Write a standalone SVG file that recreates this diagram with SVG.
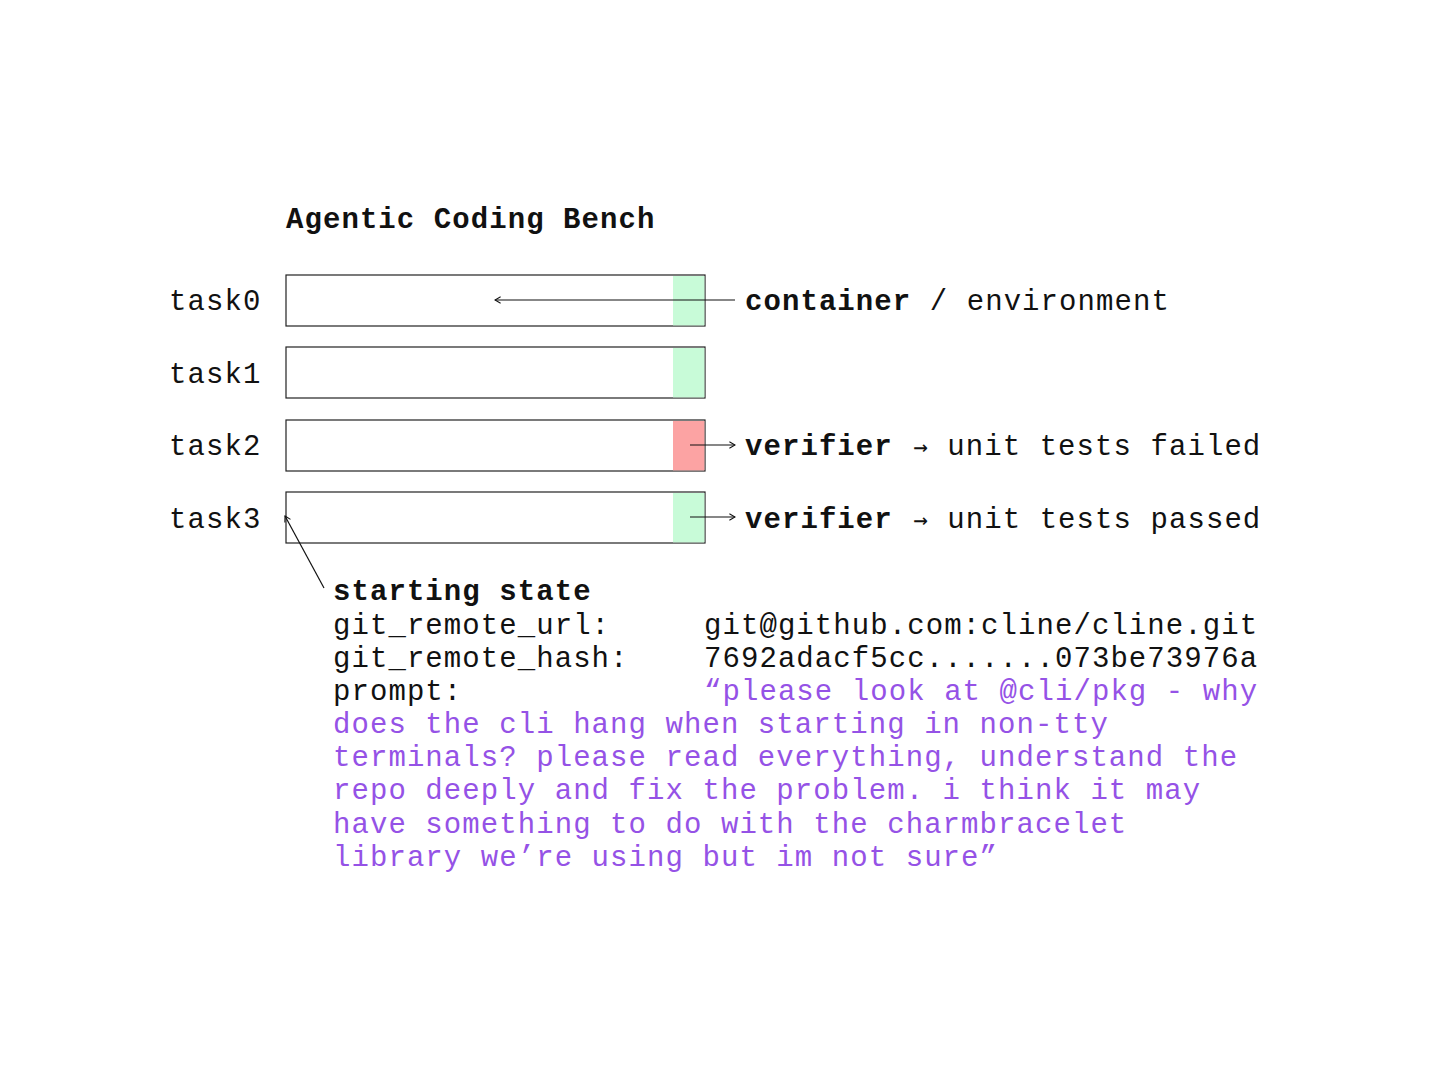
<svg xmlns="http://www.w3.org/2000/svg" width="1456" height="1075" viewBox="0 0 1456 1075">
<defs>
<style>
text{font-family:"Liberation Mono","DejaVu Sans Mono",monospace;font-size:29px;letter-spacing:1.07px;fill:#111}
.b{font-weight:bold}
.p{fill:#9552e6}
.ar{font-family:"DejaVu Sans Mono",monospace;font-size:24px}
.box{fill:#fff;stroke:#222;stroke-width:1.2}
.g{fill:#c8fbd8}
.r{fill:#fca3a3}
.ln{stroke:#111;stroke-width:1.2;fill:none}
</style>
<marker id="ah" viewBox="0 0 10 10" refX="9" refY="5" markerWidth="8" markerHeight="8" markerUnits="userSpaceOnUse" orient="auto">
<path d="M2,1 L9,5 L2,9" fill="none" stroke="#111" stroke-width="1.3"/>
</marker>
</defs>
<rect width="1456" height="1075" fill="#fff"/>
<text id="title" class="b" x="286" y="228">Agentic Coding Bench</text>
<g id="task0"><text x="169" y="310">task0</text><rect class="box" x="286" y="275" width="419" height="51"/><rect class="g" x="673" y="276" width="31.4" height="49.4"/></g>
<g id="task1"><text x="169" y="383">task1</text><rect class="box" x="286" y="347" width="419" height="51"/><rect class="g" x="673" y="348" width="31.4" height="49.4"/></g>
<g id="task2"><text x="169" y="455">task2</text><rect class="box" x="286" y="420" width="419" height="51"/><rect class="r" x="673" y="421" width="31.4" height="49.4"/></g>
<g id="task3"><text x="169" y="528">task3</text><rect class="box" x="286" y="492" width="419" height="51"/><rect class="g" x="673" y="493" width="31.4" height="49.4"/></g>
<g id="connectors">
<line class="ln" x1="735" y1="300" x2="495" y2="300" marker-end="url(#ah)"/>
<line class="ln" x1="690" y1="445" x2="735" y2="445" marker-end="url(#ah)"/>
<line class="ln" x1="690" y1="517" x2="735" y2="517" marker-end="url(#ah)"/>
<line class="ln" x1="324" y1="588" x2="285" y2="516" marker-end="url(#ah)"/>
</g>
<g id="label-container"><text x="745" y="310"><tspan class="b">container</tspan> / environment</text></g>
<g id="label-failed"><text x="745" y="455"><tspan class="b">verifier</tspan> <tspan class="ar" dx="2">→</tspan> unit tests failed</text></g>
<g id="label-passed"><text x="745" y="528"><tspan class="b">verifier</tspan> <tspan class="ar" dx="2">→</tspan> unit tests passed</text></g>
<g id="starting-state">
<text class="b" x="333" y="600">starting state</text>
<text x="333" y="634">git_remote_url:</text>
<text x="704" y="634">git@github.com:cline/cline.git</text>
<text x="333" y="667">git_remote_hash:</text>
<text x="704" y="667">7692adacf5cc.......073be73976a</text>
<text x="333" y="700">prompt:</text>
<text class="p" x="704" y="700">“please look at @cli/pkg - why</text>
<text class="p" x="333" y="733">does the cli hang when starting in non-tty</text>
<text class="p" x="333" y="766">terminals? please read everything, understand the</text>
<text class="p" x="333" y="799">repo deeply and fix the problem. i think it may</text>
<text class="p" x="333" y="833">have something to do with the charmbracelet</text>
<text class="p" x="333" y="866">library we’re using but im not sure”</text>
</g>
</svg>
